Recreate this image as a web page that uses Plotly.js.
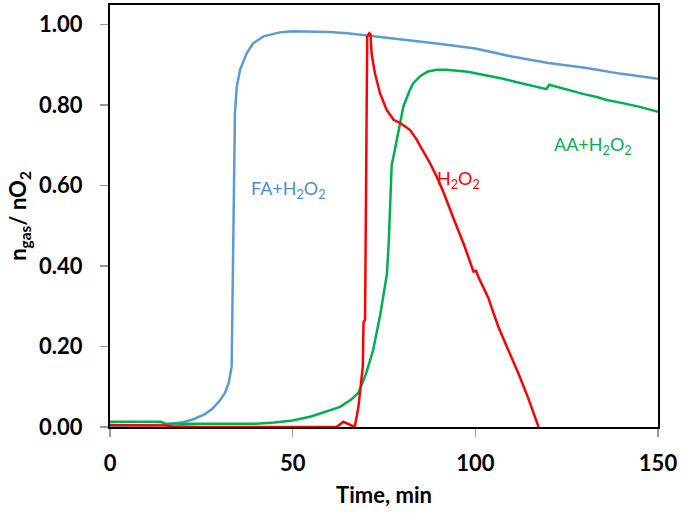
<!DOCTYPE html>
<html>
<head>
<meta charset="utf-8">
<script src="https://cdn.plot.ly/plotly-3.0.1.min.js"></script>
<style>html,body{margin:0;padding:0;background:#fff;}#chart{width:681px;height:513px;}</style>
</head>
<body>
<div id="chart"></div>
<script>
// FA + H2O2 (blue)
var faTime = [0,5,10,15,20,23,26,28,30,31.5,32.5,33.3,33.7,34.0,34.2,34.7,35.6,37.4,39.2,42,46.5,50,55,60,65,70,80,90,100,110,120,130,140,150];
var faValue = [0.003,0.003,0.004,0.006,0.012,0.02,0.032,0.045,0.065,0.085,0.11,0.15,0.4,0.7,0.78,0.845,0.887,0.928,0.953,0.97,0.98,0.983,0.982,0.981,0.978,0.973,0.962,0.952,0.94,0.92,0.904,0.892,0.877,0.865];

// AA + H2O2 (green)
var aaTime = [0,5,10,14,15,20,30,40,45,50,55,60,63,66,68,70,72,74,75,75.8,76.3,76.7,77.1,78,79,80.3,82,83,85,87,89.5,92,95,98,102,107,112,117,119.5,120.2,121,125,130,133,136,140,145,150];
var aaValue = [0.013,0.013,0.013,0.013,0.009,0.008,0.008,0.008,0.011,0.016,0.026,0.04,0.05,0.068,0.085,0.13,0.19,0.28,0.33,0.38,0.46,0.58,0.65,0.69,0.74,0.796,0.835,0.854,0.872,0.883,0.887,0.887,0.885,0.882,0.875,0.866,0.855,0.845,0.839,0.85,0.848,0.837,0.826,0.82,0.812,0.805,0.795,0.783];

// H2O2 (red)
var hpTime = [0,5,10,15,17,20,25,30,35,40,45,50,55,58,62,63.9,65.2,67,68,68.9,69.2,69.4,69.8,69.9,70.0,70.1,70.4,71.0,71.3,71.6,72.5,73.9,75.7,77.6,79.4,82.1,84.0,85.0,87.6,89.4,91.2,94.2,97,99.5,100.2,100.8,103.6,104.5,106.3,108.6,111.8,114.5,117.3];
var hpValue = [0.005,0.005,0.004,0.004,0.002,0.001,0,0,0,0,0,0,0,0,0,0.013,0.008,0,0.05,0.117,0.15,0.26,0.266,0.365,0.565,0.758,0.97,0.978,0.975,0.928,0.879,0.829,0.788,0.763,0.755,0.738,0.713,0.696,0.655,0.622,0.585,0.514,0.45,0.386,0.388,0.373,0.32,0.295,0.249,0.2,0.133,0.071,0];

var xTicks = [0,50,100,150];
var yTicks = [0,0.2,0.4,0.6,0.8,1.0];
var yTickText = ["0.00","0.20","0.40","0.60","0.80","1.00"];

var labelFA = "FA+H<sub>2</sub>O<sub>2</sub>";
var labelAA = "AA+H<sub>2</sub>O<sub>2</sub>";
var labelHP = "H<sub>2</sub>O<sub>2</sub>";

var FONT = "Lato, 'Open Sans', sans-serif";

var traces = [
  {x: faTime, y: faValue, mode: "lines", name: labelFA, line: {color: "#5B9BD5", width: 2.5}},
  {x: aaTime, y: aaValue, mode: "lines", name: labelAA, line: {color: "#00B050", width: 2.5}},
  {x: hpTime, y: hpValue, mode: "lines", name: labelHP, line: {color: "#FF0000", width: 2.5}}
];

var layout = {
  width: 681, height: 513,
  margin: {l: 110, r: 23, t: 5, b: 86},
  paper_bgcolor: "#fff", plot_bgcolor: "#fff",
  showlegend: false,
  font: {family: FONT, color: "#000"},
  xaxis: {
    range: [0, 150], tickvals: xTicks, ticktext: xTicks.map(String),
    showgrid: false, zeroline: false,
    showline: true, linecolor: "#000", linewidth: 2, mirror: true,
    ticks: "outside", ticklen: 8, tickcolor: "#999", tickwidth: 1.5,
    tickfont: {family: FONT, size: 22, color: "#000", weight: "bold"},
    ticklabelstandoff: 8,
    title: {text: "<b>Time, min</b>", font: {family: FONT, size: 22, color: "#000"}, standoff: 12}
  },
  yaxis: {
    range: [0, 1.048], tickvals: yTicks, ticktext: yTickText,
    showgrid: false, zeroline: false,
    showline: true, linecolor: "#000", linewidth: 2, mirror: true,
    ticks: "outside", ticklen: 8, tickcolor: "#999", tickwidth: 1.5,
    tickfont: {family: FONT, size: 22, color: "#000", weight: "bold"},
    ticklabelstandoff: 13,
    title: {text: "<b>n<sub>gas</sub>/ nO<sub>2</sub></b>", font: {family: FONT, size: 22, color: "#000"}, standoff: 6}
  },
  annotations: [
    {x: 48.9, y: 0.59, xref: "x", yref: "y", text: labelFA, showarrow: false, font: {family: FONT, size: 18, color: "#4A8FD0"}},
    {x: 132.2, y: 0.70, xref: "x", yref: "y", text: labelAA, showarrow: false, font: {family: FONT, size: 18, color: "#00B050"}},
    {x: 95.3, y: 0.615, xref: "x", yref: "y", text: labelHP, showarrow: false, font: {family: FONT, size: 18, color: "#FF0000"}}
  ]
};

Plotly.newPlot("chart", traces, layout, {displayModeBar: false, staticPlot: true});
</script>
</body>
</html>
